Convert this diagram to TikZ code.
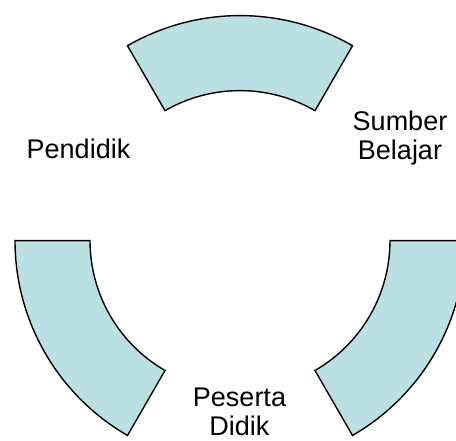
\documentclass[tikz,border=0pt]{standalone}
\usepackage{fontspec}
\setmainfont{Liberation Sans}
\usetikzlibrary{calc}
\definecolor{segfill}{RGB}{187,224,227}
\begin{document}
\begin{tikzpicture}[x=1pt,y=1pt,
  segment/.style={draw=black,line width=1.4pt,fill=segfill,line join=miter},
  label/.style={font=\fontsize{27}{29}\selectfont,align=center,inner sep=0pt}]
\useasboundingbox (0,0) rectangle (456,441);
\coordinate (C) at (240,200.4);
% three ring segments of the cycle, outer radius 225, inner radius 150
\foreach \a/\n in {60/top,180/left,300/right}{
  \draw[segment] ($(C)+(\a:225)$) coordinate (\n-o)
    arc[start angle=\a,delta angle=60,radius=225pt]
    -- ($(C)+(\a+60:150)$)
    arc[start angle=\a+60,delta angle=-60,radius=150pt] -- cycle;
}
\node[label,anchor=base] (pendidik) at (78.5,282) {Pendidik};
\node[label] (sumber) at (400,302.7) {Sumber\\Belajar};
\node[label] (peserta) at (239.5,29.6) {Peserta\\Didik};
\end{tikzpicture}
\end{document}
